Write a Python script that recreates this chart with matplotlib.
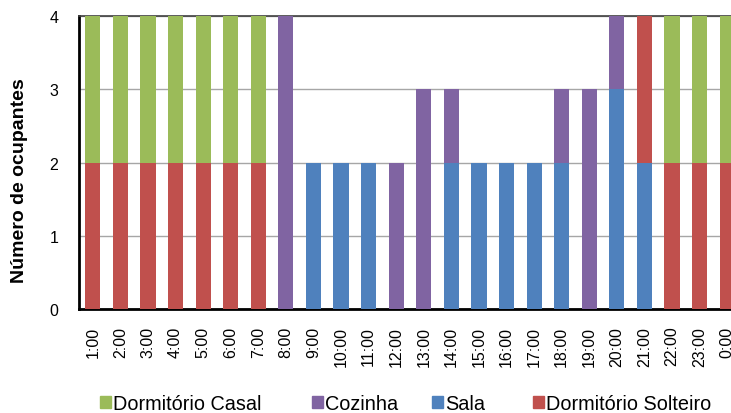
import matplotlib
matplotlib.use("Agg")
import matplotlib.pyplot as plt
from matplotlib.patches import Patch
import numpy as np

plt.rcParams['font.family'] = ['Liberation Sans', 'DejaVu Sans']

hours = ["1:00", "2:00", "3:00", "4:00", "5:00", "6:00", "7:00", "8:00",
         "9:00", "10:00", "11:00", "12:00", "13:00", "14:00", "15:00", "16:00",
         "17:00", "18:00", "19:00", "20:00", "21:00", "22:00", "23:00", "0:00"]

# occupants per room for each hour
sala      = [0, 0, 0, 0, 0, 0, 0, 0, 2, 2, 2, 0, 0, 2, 2, 2, 2, 2, 0, 3, 2, 0, 0, 0]
solteiro  = [2, 2, 2, 2, 2, 2, 2, 0, 0, 0, 0, 0, 0, 0, 0, 0, 0, 0, 0, 0, 2, 2, 2, 2]
cozinha   = [0, 0, 0, 0, 0, 0, 0, 4, 0, 0, 0, 2, 3, 1, 0, 0, 0, 1, 3, 1, 0, 0, 0, 0]
casal     = [2, 2, 2, 2, 2, 2, 2, 0, 0, 0, 0, 0, 0, 0, 0, 0, 0, 0, 0, 0, 0, 2, 2, 2]

C_CASAL = "#9BBB59"
C_COZ = "#8064A2"
C_SALA = "#4F81BD"
C_SOLT = "#C0504D"

W, H = 731, 414
fig = plt.figure(figsize=(W / 100, H / 100), dpi=100)
ax = fig.add_axes([79 / W, (H - 310) / H, 662 / W, 293 / H])

x = np.arange(len(hours))
bottom = np.zeros(len(hours))
for vals, col in [(sala, C_SALA), (solteiro, C_SOLT), (cozinha, C_COZ), (casal, C_CASAL)]:
    v = np.array(vals, dtype=float)
    ax.bar(x, v, bottom=bottom, width=0.55, color=col, zorder=3, linewidth=0)
    bottom += v

ax.set_xlim(-0.5, len(hours) - 0.5)
ax.set_ylim(0, 4)
ax.set_yticks([0, 1, 2, 3, 4])
ax.yaxis.grid(True, color="#a6a6a6", linewidth=1.0, zorder=0)
ax.set_xticks(x)
ax.set_xticklabels(hours, rotation=90, fontsize=11.5)
for lbl in ax.get_yticklabels():
    lbl.set_fontsize(11.5)
ax.tick_params(axis="both", length=0)
ax.tick_params(axis="x", pad=12)
ax.tick_params(axis="y", pad=15)

ax.spines["left"].set_linewidth(2)
ax.spines["left"].set_color("black")
ax.spines["bottom"].set_linewidth(2)
ax.spines["bottom"].set_color("black")
ax.spines["top"].set_color("#404040")
ax.spines["top"].set_linewidth(1.2)
ax.spines["right"].set_visible(False)

fig.text(20 / W, 1 - 181 / H, "Número de ocupantes", rotation=90, ha="center", va="center",
         fontsize=14, fontweight="bold")

# legend entries laid out along the bottom
entries = [("Dormitório Casal", C_CASAL, 100),
           ("Cozinha", C_COZ, 312),
           ("Sala", C_SALA, 432),
           ("Dormitório Solteiro", C_SOLT, 533)]
for label, col, xpix in entries:
    fig.legend(handles=[Patch(color=col, label=label)], loc="center left",
               bbox_to_anchor=(xpix / W, 1 - 405 / H), frameon=False, fontsize=14.3,
               handlelength=0.55, handleheight=0.55, handletextpad=0.12,
               borderaxespad=0, borderpad=0)

fig.savefig("out.png", dpi=100)
